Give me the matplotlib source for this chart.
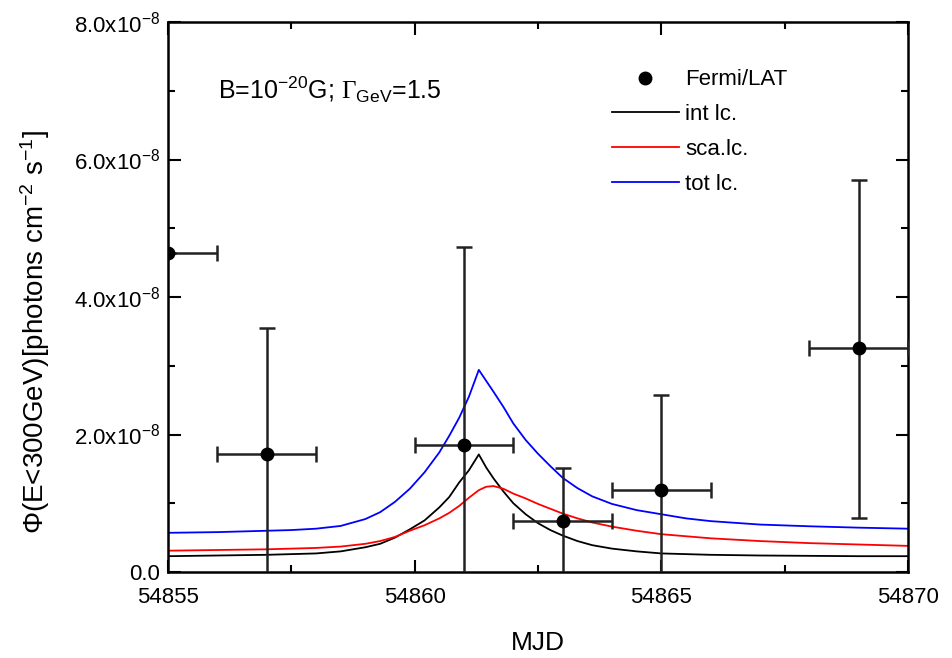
import matplotlib
matplotlib.use("Agg")
import matplotlib.pyplot as plt
from matplotlib.lines import Line2D

plt.rcParams['font.family'] = ['Liberation Sans', 'DejaVu Sans']
plt.rcParams['mathtext.fontset'] = 'custom'
plt.rcParams['mathtext.rm'] = 'Liberation Sans'
plt.rcParams['mathtext.it'] = 'Liberation Sans:italic'
plt.rcParams['mathtext.bf'] = 'Liberation Sans:bold'
plt.rcParams['mathtext.sf'] = 'Liberation Serif'

# ---- data (flux in units of 1e-8 photons cm^-2 s^-1) ----
obs_mjd = [54855, 54857, 54861, 54863, 54865, 54869]
obs_flux = [4.64, 1.72, 1.85, 0.74, 1.19, 3.26]
obs_xerr = [1, 1, 1, 1, 1, 1]
obs_yerr_lo = [0.0, 1.83, 2.88, 0.77, 1.38, 2.47]
obs_yerr_hi = [0.0, 1.83, 2.88, 0.77, 1.38, 2.44]

t_model = [54855, 54856, 54857, 54857.5, 54858, 54858.5, 54859, 54859.3, 54859.6,
           54859.9, 54860.2, 54860.5, 54860.7, 54860.9, 54861.1, 54861.3, 54861.45,
           54861.6, 54861.8, 54862.0, 54862.25, 54862.5, 54862.75, 54863.0, 54863.3,
           54863.6, 54864.0, 54864.5, 54865, 54865.5, 54866, 54867, 54868, 54869, 54870]
int_lc = [0.23, 0.24, 0.25, 0.26, 0.27, 0.30, 0.36, 0.41, 0.50,
          0.62, 0.75, 0.94, 1.09, 1.30, 1.48, 1.71, 1.52,
          1.36, 1.17, 1.00, 0.84, 0.71, 0.61, 0.53, 0.45,
          0.39, 0.34, 0.30, 0.27, 0.26, 0.25, 0.24, 0.235, 0.23, 0.23]
sca_lc = [0.31, 0.32, 0.33, 0.34, 0.35, 0.37, 0.41, 0.45, 0.51,
          0.60, 0.68, 0.78, 0.86, 0.96, 1.08, 1.19, 1.24,
          1.25, 1.21, 1.14, 1.07, 0.99, 0.92, 0.85, 0.78,
          0.72, 0.66, 0.60, 0.55, 0.52, 0.49, 0.45, 0.42, 0.40, 0.38]
tot_lc = [0.57, 0.58, 0.60, 0.61, 0.63, 0.67, 0.77, 0.87, 1.02,
          1.21, 1.45, 1.74, 1.98, 2.24, 2.55, 2.94, 2.78,
          2.62, 2.40, 2.16, 1.92, 1.72, 1.54, 1.37, 1.22,
          1.10, 0.99, 0.90, 0.84, 0.78, 0.74, 0.69, 0.665, 0.645, 0.63]

x_ticks = [54855, 54860, 54865, 54870]
x_ticklabels = ['54855', '54860', '54865', '54870']
y_ticks = [0, 2, 4, 6, 8]
y_ticklabels = ['0.0', '2.0x10$^{-8}$', '4.0x10$^{-8}$', '6.0x10$^{-8}$', '8.0x10$^{-8}$']

fig = plt.figure(figsize=(9.52, 6.58), dpi=100)
ax = fig.add_axes([168/952, 1-572/658, 740/952, 550/658])

ax.plot(t_model, int_lc, color='black', lw=1.3, label='int lc.')
ax.plot(t_model, sca_lc, color='#ff0000', lw=1.3, label='sca.lc.')
ax.plot(t_model, tot_lc, color='#0000ff', lw=1.3, label='tot lc.')

ax.errorbar(obs_mjd, obs_flux, xerr=obs_xerr, yerr=[obs_yerr_lo, obs_yerr_hi],
            fmt='o', color='black', ecolor='#222222', ms=9, elinewidth=1.8,
            capsize=6, capthick=1.8, zorder=5)

ax.set_xlim(54855, 54870)
ax.set_ylim(0, 8)
ax.set_xticks(x_ticks)
ax.set_xticklabels(x_ticklabels)
ax.set_xticks([54857.5, 54862.5, 54867.5], minor=True)
ax.set_yticks(y_ticks)
ax.set_yticklabels(y_ticklabels)
ax.set_yticks([1, 3, 5, 7], minor=True)
ax.tick_params(which='both', direction='in', top=True, right=True, labelsize=16, width=1.5)
ax.tick_params(which='major', length=9)
ax.tick_params(which='minor', length=5)
ax.tick_params(axis='x', pad=11)
ax.tick_params(axis='y', pad=6)
for s in ax.spines.values():
    s.set_linewidth(1.8)

ax.set_xlabel('MJD', fontsize=19, labelpad=16)
ax.set_ylabel(r'$\Phi$(E<300GeV)[photons cm$^{-2}$ s$^{-1}$]', fontsize=20)
ax.yaxis.set_label_coords(-0.157, 0.436)

ax.text(0.068, 0.876, r'B=10$^{-20}$G; $\mathsf{\Gamma}_{\mathrm{GeV}}$=1.5', transform=ax.transAxes,
        fontsize=18, va='center', ha='left')

handles = [Line2D([], [], marker='o', color='black', ls='none', ms=9),
           Line2D([], [], color='black', lw=1.3),
           Line2D([], [], color='#ff0000', lw=1.3),
           Line2D([], [], color='#0000ff', lw=1.3)]
labels = ['Fermi/LAT', 'int lc.', 'sca.lc.', 'tot lc.']
ax.legend(handles, labels, loc='upper left', bbox_to_anchor=(0.6, 0.914), frameon=False,
          fontsize=16, handlelength=3.0, handletextpad=0.3, labelspacing=0.62,
          borderaxespad=0, borderpad=0)

fig.savefig('out.png', dpi=100)
